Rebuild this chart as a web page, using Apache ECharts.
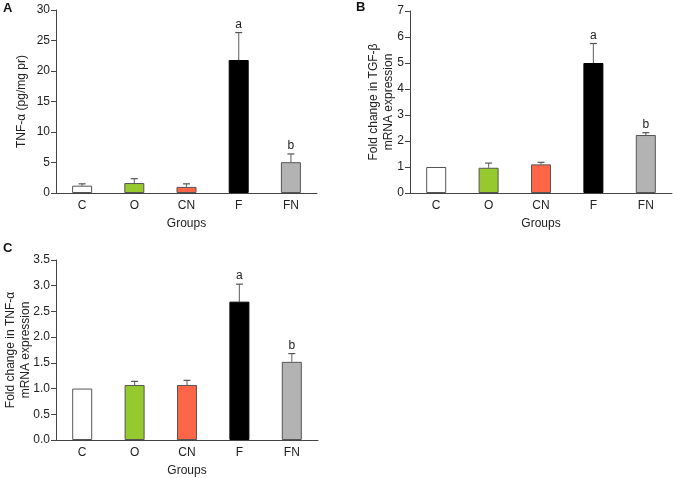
<!DOCTYPE html>
<html><head><meta charset="utf-8">
<script src="https://cdn.jsdelivr.net/npm/echarts@6/dist/echarts.min.js"></script>
<style>html,body{margin:0;padding:0;background:#fff}#c{width:673px;height:478px}</style>
</head><body><div id="c"></div>
<script>
var categories = ['C', 'O', 'CN', 'F', 'FN'];
var barColors = ['#ffffff', '#96c92d', '#ff6647', '#000000', '#b3b3b3'];

var tnfProteinMean = [1.2, 1.63, 1.0, 21.8, 5.05];
var tnfProteinErrTop = [1.5, 2.35, 1.5, 26.3, 6.4];
var tnfProteinLetters = ['', '', '', 'a', 'b'];

var tgfMean = [1.0, 0.97, 1.1, 5.0, 2.23];
var tgfErrTop = [1.0, 1.15, 1.18, 5.75, 2.32];
var tgfLetters = ['', '', '', 'a', 'b'];

var tnfMrnaMean = [1.0, 1.07, 1.07, 2.69, 1.52];
var tnfMrnaErrTop = [1.0, 1.14, 1.16, 3.03, 1.68];
var tnfMrnaLetters = ['', '', '', 'a', 'b'];

var panels = [
  {letter: 'A', yName: 'TNF-\u03b1 (pg/mg pr)', max: 30, interval: 5, dec: 0, mean: tnfProteinMean, err: tnfProteinErrTop, letters: tnfProteinLetters,
   grid: {left: 56, top: 10, width: 261, height: 183}, nameGap: 27, lp: [3, 2]},
  {letter: 'B', yName: 'Fold change in TGF-\u03b2\nmRNA expression', max: 7, interval: 1, dec: 0, mean: tgfMean, err: tgfErrTop, letters: tgfLetters,
   grid: {left: 410, top: 11, width: 262, height: 182}, nameGap: 14, lp: [356, 1]},
  {letter: 'C', yName: 'Fold change in TNF-\u03b1\nmRNA expression', max: 3.5, interval: 0.5, dec: 1, mean: tnfMrnaMean, err: tnfMrnaErrTop, letters: tnfMrnaLetters,
   grid: {left: 56, top: 260, width: 262, height: 183}, nameGap: 23, lp: [3, 242]}
];

var font = 'Liberation Sans, Arial, sans-serif';
var axisColor = '#444';
var option = {grid: [], xAxis: [], yAxis: [], series: [], graphic: [], animation: false};

panels.forEach(function (p, i) {
  option.grid.push(p.grid);
  option.xAxis.push({
    type: 'category', gridIndex: i, data: categories,
    name: 'Groups', nameLocation: 'middle', nameGap: 25, nameMoveOverlap: false,
    nameTextStyle: {fontFamily: font, fontSize: 12, color: '#222'},
    axisLine: {lineStyle: {color: axisColor, width: 1}},
    axisTick: {length: 5, lineStyle: {color: axisColor}},
    axisLabel: {fontFamily: font, fontSize: 12, color: '#222', margin: 7}
  });
  option.yAxis.push({
    type: 'value', gridIndex: i, min: 0, max: p.max, interval: p.interval,
    name: p.yName, nameLocation: 'middle', nameGap: p.nameGap, nameRotate: 90, nameMoveOverlap: false,
    nameTextStyle: {fontFamily: font, fontSize: 12, color: '#222', lineHeight: 15},
    splitLine: {show: false},
    axisLine: {show: true, lineStyle: {color: axisColor, width: 1}},
    axisTick: {show: true, length: 5, lineStyle: {color: axisColor}},
    axisLabel: {fontFamily: font, fontSize: 12, color: '#222', margin: 6,
      formatter: (function (d) { return function (v) { return v.toFixed(d); }; })(p.dec)}
  });
  option.series.push({
    type: 'bar', xAxisIndex: i, yAxisIndex: i, barWidth: 20,
    data: p.mean.map(function (v, k) {
      return {value: v, itemStyle: {color: barColors[k], borderColor: k === 3 ? '#000' : '#555', borderWidth: 1}};
    })
  });
  option.series.push({
    type: 'custom', xAxisIndex: i, yAxisIndex: i, z: 1,
    data: p.mean.map(function (v, k) { return [k, v, p.err[k]]; }),
    renderItem: (function (letters) {
      return function (params, api) {
        var k = api.value(0);
        var base = api.coord([k, api.value(1)]);
        var top = api.coord([k, api.value(2)]);
        var children = [];
        if (api.value(2) > api.value(1)) {
          children.push({type: 'line', shape: {x1: base[0], y1: base[1], x2: top[0], y2: top[1]}, style: {stroke: '#777', lineWidth: 1.2}});
          children.push({type: 'line', shape: {x1: top[0] - 3.5, y1: top[1], x2: top[0] + 3.5, y2: top[1]}, style: {stroke: '#555', lineWidth: 1.2}});
        }
        if (letters[k]) {
          children.push({type: 'text', style: {text: letters[k], x: top[0], y: top[1] - 2, align: 'center', verticalAlign: 'bottom', font: '12px ' + font, fill: '#222'}});
        }
        return {type: 'group', children: children};
      };
    })(p.letters)
  });
  option.graphic.push({type: 'text', left: p.lp[0], top: p.lp[1], style: {text: p.letter, font: 'bold 13px ' + font, fill: '#111'}});
});

var chart = echarts.init(document.getElementById('c'), null, {renderer: 'canvas'});
chart.setOption(option);
</script>
</body></html>
